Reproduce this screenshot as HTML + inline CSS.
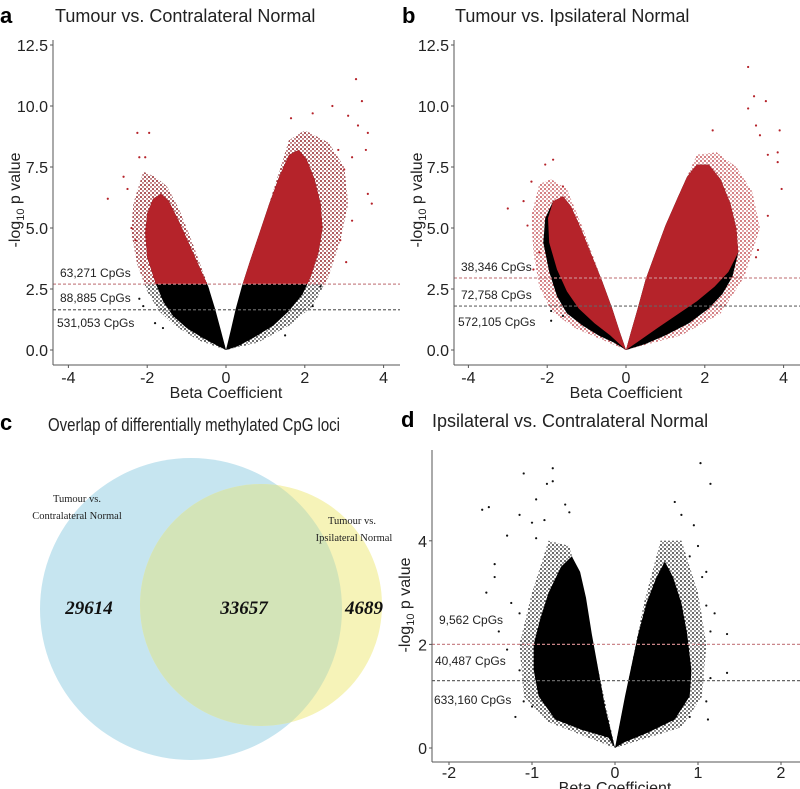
<!DOCTYPE html>
<html><head><meta charset="utf-8">
<style>
html,body{margin:0;padding:0;background:#fff}
svg{display:block;font-family:"Liberation Sans",sans-serif}
</style></head>
<body>
<svg id="fig" width="800" height="789" viewBox="0 0 800 789" xmlns="http://www.w3.org/2000/svg">
<defs>
<clipPath id="aboveA"><rect x="53" y="0" width="350" height="284"/></clipPath>
<pattern id="dotsBlack" width="4" height="4" patternUnits="userSpaceOnUse"><circle cx="1" cy="1" r="0.9" fill="#000"/><circle cx="3" cy="3" r="0.7" fill="#000"/></pattern>
<pattern id="dotsRed" width="4" height="4" patternUnits="userSpaceOnUse"><circle cx="1" cy="1" r="0.9" fill="#b5232a"/><circle cx="3" cy="3" r="0.7" fill="#b5232a"/></pattern>
</defs>
<text x="0" y="23" font-size="22" font-weight="bold">a</text>
<text x="55" y="22" font-size="18" fill="#222">Tumour vs. Contralateral Normal</text>
<text x="402" y="23" font-size="22" font-weight="bold">b</text>
<text x="455" y="22" font-size="18" fill="#222">Tumour vs. Ipsilateral Normal</text>
<text x="0" y="430" font-size="22" font-weight="bold">c</text>
<text x="48" y="431" font-size="18" fill="#222" textLength="292" lengthAdjust="spacingAndGlyphs">Overlap of differentially methylated CpG loci</text>
<text x="401" y="427" font-size="22" font-weight="bold">d</text>
<text x="432" y="427" font-size="18" fill="#222">Ipsilateral vs. Contralateral Normal</text>

<g>
<circle cx="191" cy="609" r="151" fill="#c6e5f0"/>
<circle cx="261" cy="605" r="121" fill="#f6f3b8"/>
<clipPath id="blueClip"><circle cx="191" cy="609" r="151"/></clipPath>
<circle cx="261" cy="605" r="121" fill="#d3e4b8" clip-path="url(#blueClip)"/>
<g font-family="'Liberation Serif',serif" font-size="10.5" fill="#222" text-anchor="middle">
<text x="77" y="502">Tumour vs.</text>
<text x="77" y="519">Contralateral Normal</text>
<text x="352" y="524">Tumour vs.</text>
<text x="354" y="541">Ipsilateral Normal</text>
</g>
<g font-family="'Liberation Serif',serif" font-size="19" font-weight="bold" font-style="italic" fill="#111" text-anchor="middle">
<text x="89" y="614">29614</text>
<text x="244" y="614">33657</text>
<text x="364" y="614">4689</text>
</g>
</g>
<g id="plots"></g>
</svg>
<script>
// ---- data arrays [beta, -log10 p] ----
const aLeftLobe=[[0,0],[-0.25,0.2],[-0.6,0.5],[-1.0,0.9],[-1.35,1.4],[-1.6,2.0],[-1.8,2.8],[-2.0,3.8],[-2.05,4.8],[-2.0,5.6],[-1.85,6.2],[-1.65,6.4],[-1.45,6.1],[-1.2,5.3],[-0.95,4.4],[-0.7,3.5],[-0.45,2.6],[-0.28,1.7],[-0.13,0.8]];
const aLeftFringe=[[0,0],[-0.7,0.4],[-1.3,1.0],[-1.7,1.6],[-2.0,2.4],[-2.25,3.5],[-2.4,4.8],[-2.35,6.0],[-2.1,7.3],[-1.8,7.1],[-1.5,6.7],[-1.2,5.8],[-0.9,4.6],[-0.45,2.6]];
const aRightLobe=[[0,0],[0.12,0.8],[0.25,1.7],[0.4,2.6],[0.6,3.6],[0.85,4.8],[1.1,6.0],[1.35,7.1],[1.6,8.0],[1.85,8.2],[2.05,7.8],[2.25,7.0],[2.4,6.0],[2.45,5.0],[2.35,4.0],[2.15,3.0],[1.95,2.3],[1.6,1.6],[1.2,1.0],[0.7,0.5],[0.3,0.15]];
const aRightFringe=[[0,0],[1.1,6.0],[1.6,8.6],[2.0,9.0],[2.6,8.5],[3.0,7.5],[3.1,6.0],[2.9,4.5],[2.6,3.0],[2.2,1.8],[1.6,1.0],[0.8,0.3]];
const aOutliers=[[-2.25,8.9],[-1.95,8.9],[-2.2,7.9],[-2.05,7.9],[-2.6,7.1],[-3.0,6.2],[-2.5,6.6],[-2.4,5.0],[-2.3,4.5],[-2.1,3.4],[-2.2,2.1],[-2.1,1.8],[-1.8,1.1],[-1.6,0.9],[3.3,11.1],[3.45,10.2],[2.7,10.0],[3.1,9.6],[2.2,9.7],[1.65,9.5],[3.35,9.2],[3.6,8.9],[2.85,8.2],[3.55,8.2],[3.2,7.9],[3.0,7.4],[3.6,6.4],[3.7,6.0],[3.2,5.3],[2.9,4.5],[3.05,3.6],[2.4,2.6],[1.5,0.6],[2.2,1.8]];
const aThresholds=[2.7,1.65];
const bLeftLobe=[[0,0],[-0.3,0.3],[-0.7,0.6],[-1.1,1.0],[-1.5,1.5],[-1.75,2.2],[-1.95,3.2],[-2.1,4.4],[-2.05,5.4],[-1.85,6.1],[-1.6,6.3],[-1.4,5.9],[-1.15,5.0],[-0.9,4.0],[-0.6,2.8],[-0.35,1.7],[-0.15,0.7]];
const bLeftRed=[[0,0],[-0.4,0.6],[-0.8,1.1],[-1.2,1.7],[-1.5,2.4],[-1.75,3.3],[-1.95,4.4],[-1.98,5.4],[-1.85,6.1],[-1.6,6.3],[-1.4,5.9],[-1.15,5.0],[-0.9,4.0],[-0.6,2.8],[-0.35,1.7],[-0.15,0.7]];
const bLeftFringe=[[0,0],[-1.3,0.9],[-1.9,1.6],[-2.2,2.6],[-2.35,4.0],[-2.4,5.5],[-2.2,6.8],[-1.9,7.0],[-1.5,6.6],[-1.1,5.0],[-0.6,2.8]];
const bRightLobe=[[0,0],[0.12,0.7],[0.28,1.6],[0.5,2.9],[0.75,4.0],[1.0,5.1],[1.3,6.2],[1.55,7.1],[1.8,7.6],[2.1,7.6],[2.4,7.0],[2.65,6.0],[2.8,5.0],[2.85,4.0],[2.7,3.0],[2.45,2.3],[2.1,1.7],[1.6,1.1],[1.0,0.6],[0.5,0.25]];
const bRightRed=[[0,0],[0.12,0.7],[0.28,1.6],[0.5,2.9],[0.75,4.0],[1.0,5.1],[1.3,6.2],[1.55,7.1],[1.8,7.6],[2.1,7.6],[2.4,7.0],[2.65,6.0],[2.8,5.0],[2.85,4.0],[2.6,3.2],[2.25,2.6],[1.8,2.0],[1.3,1.45],[0.8,0.9],[0.4,0.45]];
const bRightFringe=[[0,0],[1.3,6.2],[1.8,8.0],[2.3,8.1],[2.8,7.5],[3.2,6.5],[3.4,5.0],[3.0,3.0],[2.4,1.5],[1.4,0.6]];
const bOutliers=[[3.1,11.6],[3.25,10.4],[3.1,9.9],[3.55,10.2],[3.3,9.2],[3.4,8.8],[2.2,9.0],[3.9,9.0],[3.85,8.1],[3.6,8.0],[3.85,7.7],[3.95,6.6],[3.6,5.5],[3.35,4.1],[3.3,3.8],[-1.85,7.8],[-2.05,7.6],[-1.6,6.7],[-2.4,6.9],[-2.6,6.1],[-3.0,5.8],[-2.5,5.1],[-2.2,4.0],[-2.35,3.3],[-1.9,1.6],[-1.9,1.2],[-1.6,1.4]];
const bThresholds=[2.95,1.8];
const dLeftLobe=[[0,0],[-0.08,0.2],[-0.4,0.35],[-0.72,0.55],[-0.92,1.0],[-0.98,1.5],[-0.98,2.0],[-0.9,2.5],[-0.8,3.0],[-0.65,3.5],[-0.52,3.7],[-0.42,3.4],[-0.35,2.9],[-0.28,2.2],[-0.2,1.5],[-0.12,0.8]];
const dLeftFringe=[[0,0],[-0.8,0.5],[-1.1,1.0],[-1.15,2.0],[-1.0,3.0],[-0.8,4.0],[-0.55,3.9],[-0.4,3.0]];
const dRightLobe=[[0,0],[0.06,0.5],[0.12,1.0],[0.2,1.6],[0.28,2.2],[0.38,2.8],[0.5,3.3],[0.6,3.6],[0.7,3.3],[0.8,2.8],[0.87,2.2],[0.92,1.5],[0.9,1.0],[0.72,0.55],[0.4,0.3],[0.1,0.1]];
const dRightFringe=[[0,0],[0.35,2.8],[0.55,4.0],[0.8,4.0],[1.0,3.0],[1.1,2.0],[1.05,1.0],[0.8,0.4]];
const dOutliers=[[-0.75,5.4],[-1.1,5.3],[-0.82,5.1],[-0.75,5.15],[-0.95,4.8],[-1.6,4.6],[-1.52,4.65],[-0.6,4.7],[-0.55,4.55],[-1.15,4.5],[-0.85,4.4],[-1.0,4.35],[-1.3,4.1],[-0.95,4.05],[-1.45,3.55],[-1.45,3.3],[-1.55,3.0],[-1.25,2.8],[-1.15,2.6],[-1.4,2.25],[-1.3,1.9],[-1.15,1.5],[-1.1,0.9],[-1.2,0.6],[-1.0,0.8],[1.03,5.5],[1.15,5.1],[0.72,4.75],[0.8,4.5],[0.95,4.3],[1.0,3.9],[0.9,3.7],[1.1,3.4],[1.05,3.3],[1.1,2.75],[1.2,2.6],[1.15,2.25],[1.35,2.2],[1.35,1.45],[1.15,1.35],[1.1,0.9],[1.12,0.55],[0.9,0.6]];
const dThresholds=[2.0,1.3];
const abYTicks=[0,2.5,5,7.5,10,12.5];
const abXTicks=[-4,-2,0,2,4];
const dYTicks=[0,2,4];
const dXTicks=[-2,-1,0,1,2];
const aLabels=["63,271 CpGs","88,885 CpGs","531,053 CpGs"];
const bLabels=["38,346 CpGs","72,758 CpGs","572,105 CpGs"];
const dLabels=["9,562 CpGs","40,487 CpGs","633,160 CpGs"];

const NS="http://www.w3.org/2000/svg";
const root=document.getElementById('plots');
function el(tag,attrs,parent){const e=document.createElementNS(NS,tag);for(const k in attrs)e.setAttribute(k,attrs[k]);(parent||root).appendChild(e);return e;}
function axis(x0,xz,xs,y0,ys){return {x:v=>xz+v*xs,y:v=>y0-v*ys,x0:x0};}
function poly(ax,pts){return pts.map(p=>ax.x(p[0]).toFixed(1)+','+ax.y(p[1]).toFixed(1)).join(' ');}

function panel(id,ax,cfg){
  const g=el('g',{});
  
  
  cfg.fringe.forEach((lobe,i)=>{
    const p=el('polygon',{points:poly(ax,lobe),fill:cfg.fringeFill},g);
    
    
  });
  if(cfg.redClip){
    cfg.fringe.forEach((lobe,i)=>{
      const p=el('polygon',{points:poly(ax,lobe),fill:'url(#dotsRed)','clip-path':cfg.redClip},g);
      
      
    });
  }
  cfg.black.forEach((lobe,i)=>{
    const p=el('polygon',{points:poly(ax,lobe),fill:'#000'},g);
    
    
  });
  cfg.red.forEach((lobe,i)=>{
    const attrs={points:poly(ax,lobe),fill:'#b5232a'};
    if(cfg.redClip)attrs['clip-path']=cfg.redClip;
    const p=el('polygon',attrs,g);
    
    
  });
  cfg.outliers.forEach(pt=>{
    const red=cfg.redOut&&pt[1]>cfg.thr[0];
    const c=el('circle',{cx:ax.x(pt[0]),cy:ax.y(pt[1]),r:1.1,fill:red?'#b5232a':'#111'},g);
    
    
  });
  cfg.thr.forEach((t,i)=>{
    const l=el('line',{x1:ax.x0,x2:cfg.right,y1:ax.y(t),y2:ax.y(t),stroke:i==0?'#c9868a':'#666','stroke-width':1.2,'stroke-dasharray':'3,2'},g);
    
    
  });
  cfg.labels.forEach((s,i)=>{
    const t=el('text',{x:cfg.labX[i],y:cfg.labY[i],'font-size':12,fill:'#222'},g);
    t.textContent=s;
    
    
  });
  const ya=el('line',{x1:ax.x0,x2:ax.x0,y1:cfg.top,y2:cfg.bottom,stroke:'#555','stroke-width':1},g);
  
  const xa=el('line',{x1:ax.x0,x2:cfg.right,y1:cfg.bottom,y2:cfg.bottom,stroke:'#555','stroke-width':1},g);
  
  cfg.yt.forEach(v=>{
    const t=el('text',{x:ax.x0-5,y:ax.y(v)+6,'font-size':16,'text-anchor':'end',fill:'#222'},g);
    t.textContent=cfg.yfmt(v);
    
    const tk=el('line',{x1:ax.x0-3,x2:ax.x0,y1:ax.y(v),y2:ax.y(v),stroke:'#555'},g);
    
  });
  cfg.xt.forEach(v=>{
    const t=el('text',{x:ax.x(v),y:cfg.bottom+cfg.xtOff,'font-size':16,'text-anchor':'middle',fill:'#222'},g);
    t.textContent=v<0?'-'+Math.abs(v):String(v);
    
    const tk=el('line',{x1:ax.x(v),x2:ax.x(v),y1:cfg.bottom,y2:cfg.bottom+3,stroke:'#555'},g);
    
  });
  const xt=el('text',{x:ax.x(0),y:cfg.bottom+cfg.xtOff+15,'font-size':16,'text-anchor':'middle',fill:'#222'},g);
  xt.textContent='Beta Coefficient';
  
  const yt=el('text',{x:0,y:0,'font-size':16,'text-anchor':'middle',fill:'#222',transform:'translate('+cfg.ytX+','+cfg.ytY+') rotate(-90)'},g);
  yt.innerHTML='-log<tspan font-size="11" dy="4">10</tspan><tspan dy="-4"> p value</tspan>';
  
}
const f1=v=>v.toFixed(1);
panel('panel-a',axis(53,226,39.4,350,24.4),{fringe:[aLeftFringe,aRightFringe],fringeFill:'url(#dotsBlack)',black:[aLeftLobe,aRightLobe],red:[aLeftLobe,aRightLobe],redClip:'url(#aboveA)',outliers:aOutliers,redOut:true,thr:aThresholds,right:400,top:40,bottom:365,labels:aLabels,labX:[60,60,57],labY:[277,302,327],yt:abYTicks,xt:abXTicks,yfmt:f1,ytX:20,ytY:200,xtOff:18});
panel('panel-b',axis(454,626,39.4,350,24.4),{fringe:[bLeftFringe,bRightFringe],fringeFill:'url(#dotsRed)',black:[bLeftLobe,bRightLobe],red:[bLeftRed,bRightRed],outliers:bOutliers,redOut:true,thr:bThresholds,right:800,top:40,bottom:365,labels:bLabels,labX:[461,461,458],labY:[271,299,326],yt:abYTicks,xt:abXTicks,yfmt:f1,ytX:422,ytY:200,xtOff:18});
panel('panel-d',axis(432,615,83,748,51.8),{fringe:[dLeftFringe,dRightFringe],fringeFill:'url(#dotsBlack)',black:[dLeftLobe,dRightLobe],red:[],outliers:dOutliers,redOut:false,thr:dThresholds,right:800,top:450,bottom:762,labels:dLabels,labX:[439,435,434],labY:[624,665,704],yt:dYTicks,xt:dXTicks,yfmt:v=>String(v),ytX:410,ytY:605,xtOff:16});
</script>
</body></html>
